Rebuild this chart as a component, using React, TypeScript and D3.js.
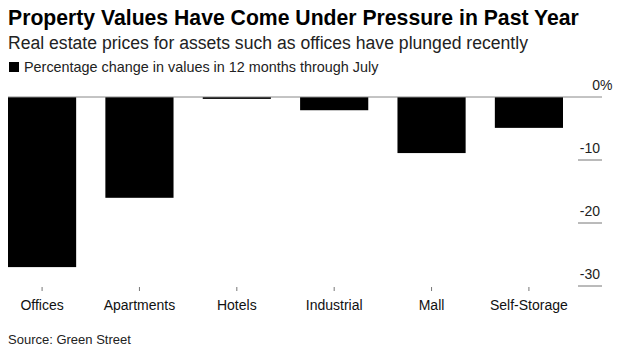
import * as d3 from 'd3';

const categories = ['Offices', 'Apartments', 'Hotels', 'Industrial', 'Mall', 'Self-Storage'];
const values = [-27.0, -16.0, -0.3, -2.1, -8.9, -4.9];
const yTicks = [0, -10, -20, -30];

const W = 628;
const H = 358;
const font = '"Liberation Sans", Arial, sans-serif';

export default function App() {
    const x = d3.scaleBand<string>()
        .domain(categories)
        .range([8, 563])
        .paddingInner(0.3)
        .paddingOuter(0);

    const y = d3.scaleLinear()
        .domain([-30, 0])
        .range([286, 97]);

    const axisRight = 602;

    return (
        <svg width={W} height={H} style={{ position: 'fixed', left: 0, top: 0, background: '#fff' }} fontFamily={font}>
            <text x={8} y={25} fontSize={21.2} fontWeight="bold" fill="#000">Property Values Have Come Under Pressure in Past Year</text>
            <text x={8} y={49} fontSize={17.6} fill="#222">Real estate prices for assets such as offices have plunged recently</text>

            <rect x={9} y={62} width={10} height={10} fill="#000" />
            <text x={24} y={72} fontSize={14.4} fill="#222">Percentage change in values in 12 months through July</text>

            {/* y gridline stubs + labels */}
            {yTicks.map(t => (
                <g key={t}>
                    {t !== 0 && (
                        <line x1={578} x2={axisRight} y1={y(t)} y2={y(t)} stroke="#777" strokeWidth={1} />
                    )}
                    <text x={600} y={y(t) - 7} fontSize={14} textAnchor="end" fill="#222">{t}</text>
                    {t === 0 && <text x={600} y={y(t) - 7} fontSize={14} fill="#222">%</text>}
                </g>
            ))}

            {/* bars */}
            {categories.map((c, i) => (
                <rect key={c}
                    x={x(c)}
                    y={y(0)}
                    width={x.bandwidth()}
                    height={Math.max(0, y(values[i]) - y(0))}
                    fill="#000" />
            ))}

            {/* zero line */}
            <line x1={8} x2={axisRight} y1={y(0)} y2={y(0)} stroke="#888" strokeWidth={1} />

            {/* category ticks and labels */}
            {categories.map(c => {
                const cx = (x(c) ?? 0) + x.bandwidth() / 2;
                return (
                    <g key={c}>
                        <line x1={cx} x2={cx} y1={287} y2={291} stroke="#777" strokeWidth={1} />
                        <text x={cx} y={310} fontSize={14} textAnchor="middle" fill="#111">{c}</text>
                    </g>
                );
            })}

            <text x={8} y={344} fontSize={13} fill="#222">Source: Green Street</text>
        </svg>
    );
}
